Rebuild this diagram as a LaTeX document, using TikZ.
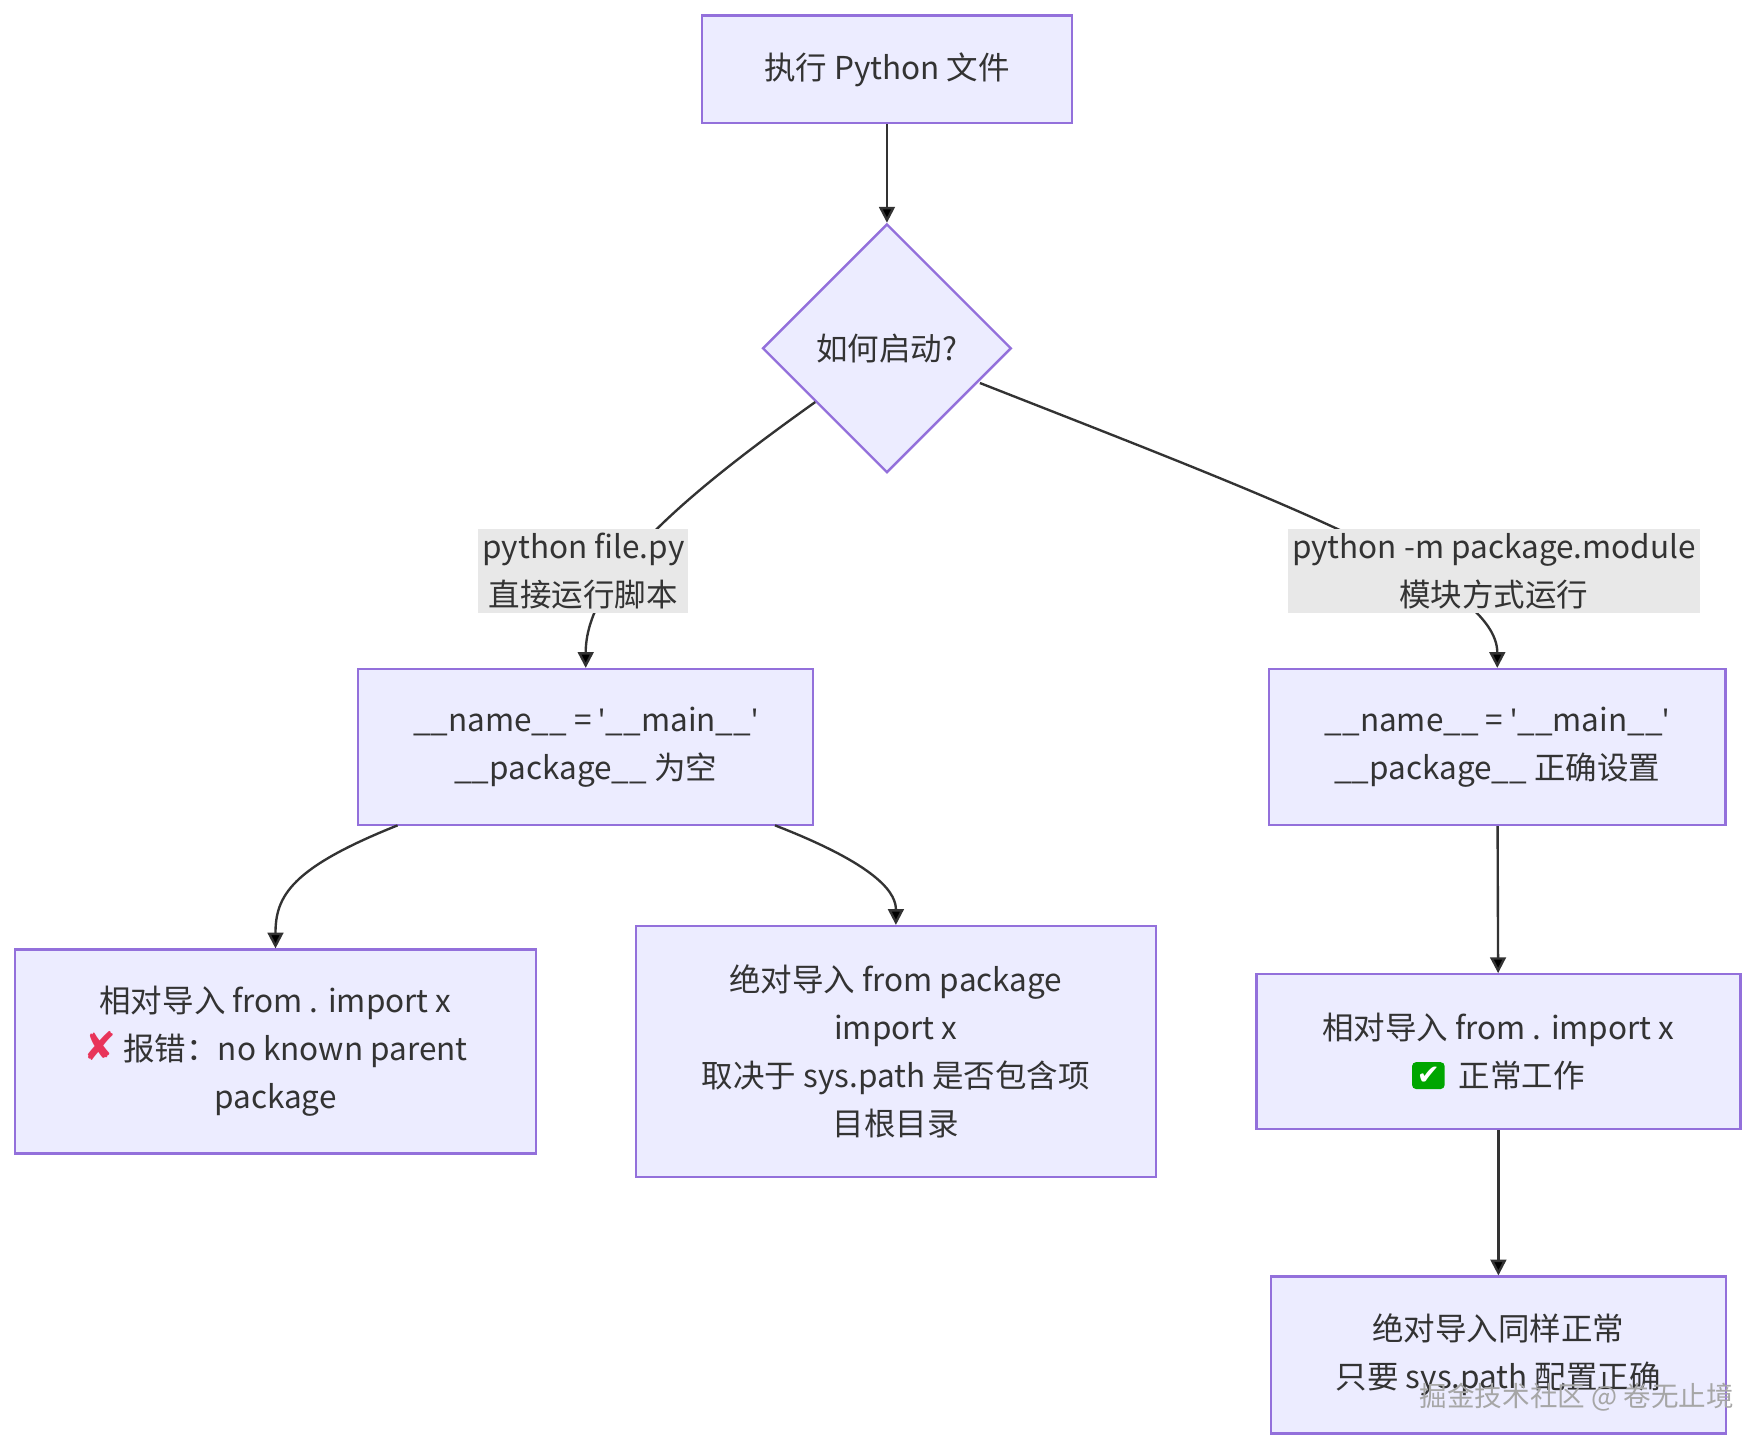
\documentclass[tikz,border=0pt]{standalone}
\usepackage{fontspec}
\setmainfont{Noto Sans CJK SC}
\newfontfamily\symfont{DejaVu Sans}
\newfontfamily\latinfont{Noto Sans}
\usetikzlibrary{shapes.geometric, arrows.meta, positioning}
\definecolor{boxfill}{HTML}{ECECFF}
\definecolor{boxline}{HTML}{9370DB}
\definecolor{edgecol}{HTML}{333333}
\definecolor{labelbg}{HTML}{E8E8E8}
\newcommand{\sq}{{\latinfont\char"27}}
\tikzset{
  box/.style={rectangle, draw=boxline, fill=boxfill, line width=0.6pt, align=center, font=\fontsize{8}{12.2}\selectfont, text=edgecol},
  decision/.style={diamond, draw=boxline, fill=boxfill, line width=0.6pt, minimum width=2.22cm, minimum height=2.22cm, inner sep=0pt, font=\fontsize{8}{12.2}\selectfont, text=edgecol},
  edgelabel/.style={fill=labelbg, inner sep=1pt, align=center, font=\fontsize{8}{12.2}\selectfont, text=edgecol},
  checkmark/.style={fill={green!65!black}, rounded corners=1pt, text=white, inner sep=1.2pt, minimum width=0, minimum height=0, draw=none, font=\symfont\fontsize{7}{7}\selectfont},
  arrow/.style={line width=0.6pt, draw=edgecol, -{Triangle[length=4pt,width=4pt]}},
}
\begin{document}
\begin{tikzpicture}[x=0.01cm, y=-0.01cm]
\useasboundingbox (0,0) rectangle (1568,1294);

% Nodes
\node[box, minimum width=3.3cm, minimum height=0.96cm] (start) at (792,62) {执行 Python 文件};
\node[decision] (how) at (792,311) {如何启动?};
\node[box, minimum width=4.06cm, minimum height=1.39cm] (scriptenv) at (523,667) {\_\_name\_\_ = \sq\_\_main\_\_\sq\\\_\_package\_\_ 为空};
\node[box, minimum width=4.07cm, minimum height=1.39cm] (moduleenv) at (1337,667) {\_\_name\_\_ = \sq\_\_main\_\_\sq\\\_\_package\_\_ 正确设置};
\node[box, minimum width=4.65cm, minimum height=1.82cm] (relfail) at (246,939) {相对导入 from . import x\\{\symfont\fontsize{10}{10}\selectfont\color[HTML]{E8345A}✘} 报错：no known parent\\package};
\node[box, minimum width=4.64cm, minimum height=2.24cm] (absdep) at (800,939) {绝对导入 from package\\import x\\取决于 sys.path 是否包含项\\目根目录};
\node[box, minimum width=4.32cm, minimum height=1.38cm] (relok) at (1338,939) {相对导入 from . import x\\\tikz[baseline=-0.7ex]\node[checkmark]{✔}; \ 正常工作};
\node[box, minimum width=4.06cm, minimum height=1.4cm] (absok) at (1338,1210) {绝对导入同样正常\\只要 sys.path 配置正确};

% Edges
\draw[arrow] (start) -- (how);
\draw[arrow] (how.south west) ++(-8,-8) .. controls (600,450) and (523,520) .. (scriptenv.north);
\draw[arrow] (875,342) .. controls (1150,450) and (1337,520) .. (moduleenv.north);
\node[edgelabel] (scriptlbl) at (521,510) {python file.py\\直接运行脚本};
\node[edgelabel] (modulelbl) at (1334,510) {python -m package.module\\模块方式运行};
\draw[arrow] (355,737) .. controls (260,775) and (246,800) .. (relfail.north);
\draw[arrow] (692,737) .. controls (790,775) and (800,800) .. (absdep.north);
\draw[arrow] (moduleenv) -- (relok);
\draw[arrow] (relok) -- (absok);

% Watermark
\node[font=\fontsize{7}{8}\selectfont, text=gray!70] (mark) at (1408,1248) {掘金技术社区 @ 卷无止境};
\end{tikzpicture}
\end{document}
